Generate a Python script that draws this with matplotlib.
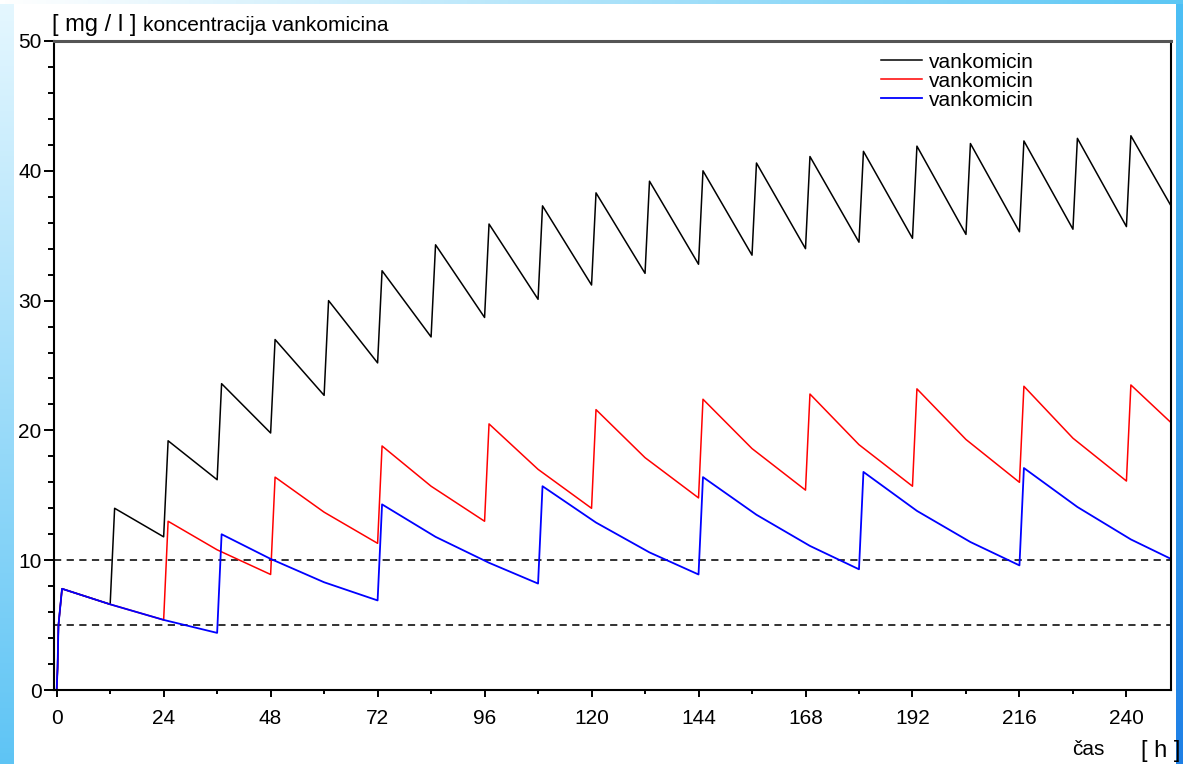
import numpy as np
import matplotlib
matplotlib.use('Agg')
import matplotlib.pyplot as plt

plt.rcParams['font.family'] = ['Liberation Sans', 'DejaVu Sans']

# vancomycin concentration [mg/l], time in hours
black_t = [0, 0.2, 0.4, 1.2, 12, 13, 24, 25, 36, 37, 48, 49, 60, 61, 72, 73, 84, 85,
           96, 97, 108, 109, 120, 121, 132, 133, 144, 145, 156, 157, 168, 169, 180, 181,
           192, 193, 204, 205, 216, 217, 228, 229, 240, 241, 250]
black_c = [0, 1.7, 5.0, 7.8, 6.6, 14.0, 11.8, 19.2, 16.2, 23.6, 19.8, 27.0, 22.7, 30.0,
           25.2, 32.3, 27.2, 34.3, 28.7, 35.9, 30.1, 37.3, 31.2, 38.3, 32.1, 39.2, 32.8,
           40.0, 33.5, 40.6, 34.0, 41.1, 34.5, 41.5, 34.8, 41.9, 35.1, 42.1, 35.3, 42.3,
           35.5, 42.5, 35.7, 42.7, 37.3]

red_t = [0, 0.2, 0.4, 1.2, 12, 24, 25, 36, 48, 49, 60, 72, 73, 84, 96, 97, 108, 120,
         121, 132, 144, 145, 156, 168, 169, 180, 192, 193, 204, 216, 217, 228, 240, 241, 250]
red_c = [0, 1.7, 5.0, 7.8, 6.6, 5.4, 13.0, 10.8, 8.9, 16.4, 13.7, 11.3, 18.8, 15.7, 13.0,
         20.5, 17.0, 14.0, 21.6, 17.9, 14.8, 22.4, 18.6, 15.4, 22.8, 18.9, 15.7, 23.2, 19.3,
         16.0, 23.4, 19.4, 16.1, 23.5, 20.6]

blue_t = [0, 0.2, 0.4, 1.2, 12, 24, 36, 37, 48, 60, 72, 73, 85, 97, 108, 109, 121, 133,
          144, 145, 157, 169, 180, 181, 193, 205, 216, 217, 229, 241, 250]
blue_c = [0, 1.7, 5.0, 7.8, 6.6, 5.4, 4.4, 12.0, 10.1, 8.3, 6.9, 14.3, 11.8, 9.8, 8.2,
          15.7, 12.9, 10.6, 8.9, 16.4, 13.5, 11.1, 9.3, 16.8, 13.8, 11.4, 9.6, 17.1, 14.1,
          11.6, 10.1]

limits = [10, 5]
labels = ['vankomicin', 'vankomicin', 'vankomicin']

W, H = 1183, 764
fig = plt.figure(figsize=(W / 100, H / 100), dpi=100)
fig.patch.set_facecolor('white')

# decorative blue window border
bg = fig.add_axes([0, 0, 1, 1], zorder=-10)
bg.set_xlim(0, W)
bg.set_ylim(H, 0)
bg.axis('off')
vert = np.linspace(0, 1, 256).reshape(-1, 1)
left_cols = np.array([0.90, 0.97, 1.0]) * (1 - vert[..., None]) + np.array([0.37, 0.77, 0.96]) * vert[..., None]
bg.imshow(np.repeat(left_cols, 2, axis=1), extent=[0, 14, H, 0], aspect='auto')
right_cols = np.array([0.30, 0.75, 0.96]) * (1 - vert[..., None]) + np.array([0.12, 0.50, 0.90]) * vert[..., None]
bg.imshow(np.repeat(right_cols, 2, axis=1), extent=[1176, W, H, 0], aspect='auto')
horiz = np.linspace(0, 1, 256).reshape(1, -1)
top_cols = np.array([1.0, 1.0, 1.0]) * (1 - horiz[..., None]) + np.array([0.36, 0.78, 0.96]) * horiz[..., None]
bg.imshow(np.repeat(top_cols, 2, axis=0), extent=[0, W, 4, 0], aspect='auto')

x0, x1, y0, y1 = 54, 1171, 41, 690
ax = fig.add_axes([x0 / W, 1 - y1 / H, (x1 - x0) / W, (y1 - y0) / H])
ax.set_facecolor('white')

ax.plot(black_t, black_c, color='black', lw=1.1, label=labels[0])
ax.plot(red_t, red_c, color='#ff0000', lw=1.1, label=labels[1])
ax.plot(blue_t, blue_c, color='#0000ff', lw=1.3, label=labels[2])
for lim in limits:
    ax.axhline(lim, color='#222222', lw=1.3, ls=(0, (4, 3)), zorder=1)

ax.set_xlim(-0.6, 250)
ax.set_ylim(0, 50)
ax.set_xticks(np.arange(0, 241, 24))
ax.set_xticks(np.arange(12, 250, 24), minor=True)
ax.set_yticks(np.arange(0, 51, 10))
ax.set_yticks(np.arange(0, 51, 2), minor=True)
ax.tick_params(axis='both', which='both', direction='out', width=1.4, labelsize=15, colors='black')
ax.tick_params(axis='y', which='major', length=7, pad=2)
ax.tick_params(axis='y', which='minor', length=4)
ax.tick_params(axis='x', which='major', length=5, pad=9)
ax.tick_params(axis='x', which='minor', length=3)

for side in ['left', 'bottom', 'right']:
    ax.spines[side].set_linewidth(1.5)
    ax.spines[side].set_color('black')
ax.spines['top'].set_linewidth(2.2)
ax.spines['top'].set_color('#555555')

leg = ax.legend(loc='upper left', bbox_to_anchor=(0.74, 0.982), frameon=False,
                fontsize=15, handlelength=2.0, handletextpad=0.3, labelspacing=0.0,
                borderpad=0, borderaxespad=0)

fig.text(52 / W, 1 - 31 / H, '[ mg / l ]', fontsize=17, va='baseline', ha='left')
fig.text(143 / W, 1 - 31 / H, 'koncentracija vankomicina', fontsize=15, va='baseline', ha='left')
fig.text(1072 / W, 1 - 755 / H, 'čas', fontsize=15, va='baseline', ha='left')
fig.text(1141 / W, 1 - 757 / H, '[ h ]', fontsize=17, va='baseline', ha='left')

fig.savefig('out.png', dpi=100)
